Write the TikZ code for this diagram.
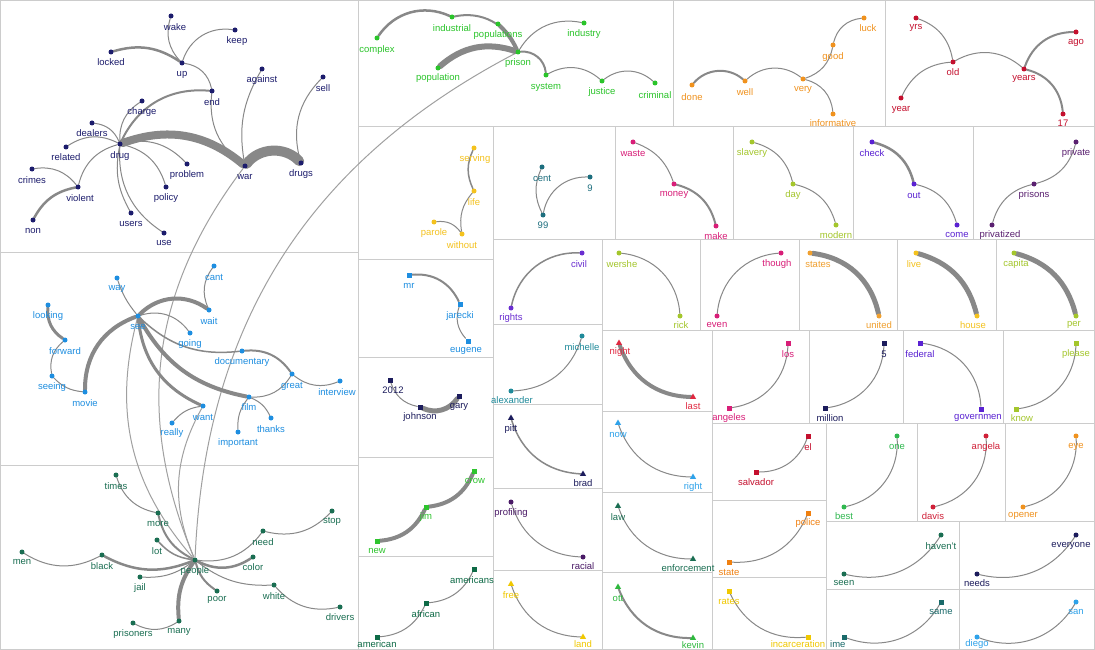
\documentclass[tikz,border=0pt]{standalone}
\usepackage{fontspec}
\setmainfont{Liberation Sans}
\usetikzlibrary{shapes.geometric}
\pgfdeclarelayer{bg}
\pgfsetlayers{bg,main}
\definecolor{edgegray}{HTML}{888888}
\definecolor{edgelight}{HTML}{A0A0A0}
\definecolor{panelgray}{HTML}{CCCCCC}
\definecolor{cA}{HTML}{1C1C6C}
\definecolor{cB}{HTML}{1E8EE0}
\definecolor{cC}{HTML}{1A6E52}
\definecolor{cP}{HTML}{2AC42A}
\definecolor{cO}{HTML}{F0921E}
\definecolor{cR}{HTML}{C4102E}
\definecolor{cY}{HTML}{F4C21E}
\definecolor{cT}{HTML}{1D6E7E}
\definecolor{cM}{HTML}{D81E78}
\definecolor{cG}{HTML}{A4C62C}
\definecolor{cV}{HTML}{5A22D2}
\definecolor{cPu}{HTML}{5A2070}
\definecolor{cV2}{HTML}{6A2ED0}
\definecolor{cO2}{HTML}{F0A030}
\definecolor{cN}{HTML}{1C1C5C}
\definecolor{cJ}{HTML}{2EC42E}
\definecolor{cA2}{HTML}{0E6A46}
\definecolor{cTl}{HTML}{1F8A9A}
\definecolor{cPf}{HTML}{4A1A66}
\definecolor{cY2}{HTML}{F0C800}
\definecolor{cRd}{HTML}{E02840}
\definecolor{cLb}{HTML}{2EA2EA}
\definecolor{cJ2}{HTML}{2EB83E}
\definecolor{cGr}{HTML}{30B850}
\definecolor{cRd2}{HTML}{D02038}
\definecolor{cOr}{HTML}{F08010}
\definecolor{cTt}{HTML}{1A6A6A}
\newcommand\nd[8]{%
  \node[#5, fill=#4] (#1) at (#2,#3) {};
  \node[lbl, text=#4] (#1-t) at (#7,#8) {#6};}
\newcommand\ed[4][1]{\draw[edge, line width=#1pt] (#2) to[#4] (#3);}
\begin{document}
\begin{tikzpicture}[x=1pt,y=-1pt,
 mkc/.style={circle,inner sep=0pt,minimum size=5pt,draw=none},
 mks/.style={rectangle,inner sep=0pt,minimum size=5pt,draw=none},
 mkt/.style={regular polygon,regular polygon sides=3,inner sep=0pt,minimum size=7pt,draw=none},
 lbl/.style={inner sep=0pt,font=\fontsize{9.5}{9.5}\selectfont},
 edge/.style={draw=edgegray,line cap=round},
 far/.style={draw=edgelight,line width=1pt},
 panel/.style={draw=panelgray,line width=1pt}]
\useasboundingbox (0,0) rectangle (1095,650);
\clip (0,0) rectangle (1095,650);
% ---------------- nodes ----------------
% panel A
\nd{wake}{171}{16}{cA}{mkc}{wake}{175}{27}
\nd{keep}{235}{30}{cA}{mkc}{keep}{237}{41}
\nd{locked}{111}{52}{cA}{mkc}{locked}{111}{62}
\nd{up}{182}{63}{cA}{mkc}{up}{182}{75}
\nd{against}{262}{69}{cA}{mkc}{against}{262}{80}
\nd{sell}{323}{77}{cA}{mkc}{sell}{323}{88}
\nd{end}{212}{91}{cA}{mkc}{end}{212}{102}
\nd{charge}{142}{101}{cA}{mkc}{charge}{142}{112}
\nd{dealers}{92}{123}{cA}{mkc}{dealers}{92}{133}
\nd{drug}{120}{144}{cA}{mkc}{drug}{120}{156}
\nd{related}{66}{147}{cA}{mkc}{related}{66}{157}
\nd{problem}{187}{164}{cA}{mkc}{problem}{187}{175}
\nd{war}{245}{166}{cA}{mkc}{war}{245}{177}
\nd{drugs}{301}{163}{cA}{mkc}{drugs}{301}{174}
\nd{crimes}{32}{169}{cA}{mkc}{crimes}{32}{180}
\nd{violent}{78}{187}{cA}{mkc}{violent}{80}{198}
\nd{policy}{166}{187}{cA}{mkc}{policy}{166}{198}
\nd{users}{131}{213}{cA}{mkc}{users}{131}{224}
\nd{non}{33}{220}{cA}{mkc}{non}{33}{231}
\nd{use}{164}{233}{cA}{mkc}{use}{164}{243}
% panel B
\nd{way}{117}{278}{cB}{mkc}{way}{117}{289}
\nd{cant}{214}{266}{cB}{mkc}{cant}{214}{277}
\nd{looking}{48}{305}{cB}{mkc}{looking}{48}{316}
\nd{see}{138}{316}{cB}{mkc}{see}{138}{327}
\nd{wait}{209}{310}{cB}{mkc}{wait}{209}{321}
\nd{forward}{65}{340}{cB}{mkc}{forward}{65}{351}
\nd{going}{190}{333}{cB}{mkc}{going}{190}{344}
\nd{documentary}{242}{351}{cB}{mkc}{documentary}{242}{362}
\nd{seeing}{52}{376}{cB}{mkc}{seeing}{52}{387}
\nd{great}{292}{374}{cB}{mkc}{great}{292}{386}
\nd{interview}{340}{381}{cB}{mkc}{interview}{337}{392}
\nd{movie}{85}{392}{cB}{mkc}{movie}{85}{403}
\nd{film}{249}{397}{cB}{mkc}{film}{249}{407}
\nd{want}{203}{406}{cB}{mkc}{want}{203}{417}
\nd{thanks}{271}{418}{cB}{mkc}{thanks}{271}{429}
\nd{really}{172}{423}{cB}{mkc}{really}{172}{433}
\nd{important}{238}{432}{cB}{mkc}{important}{238}{443}
% panel C
\nd{times}{116}{475}{cC}{mkc}{times}{116}{486}
\nd{more}{158}{513}{cC}{mkc}{more}{158}{524}
\nd{stop}{332}{511}{cC}{mkc}{stop}{332}{521}
\nd{lot}{157}{540}{cC}{mkc}{lot}{157}{551}
\nd{need}{263}{531}{cC}{mkc}{need}{263}{542}
\nd{men}{22}{552}{cC}{mkc}{men}{22}{562}
\nd{black}{102}{555}{cC}{mkc}{black}{102}{566}
\nd{people}{195}{560}{cC}{mkc}{people}{195}{571}
\nd{color}{253}{557}{cC}{mkc}{color}{253}{567}
\nd{jail}{140}{577}{cC}{mkc}{jail}{140}{588}
\nd{white}{274}{585}{cC}{mkc}{white}{274}{596}
\nd{poor}{217}{591}{cC}{mkc}{poor}{217}{600}
\nd{drivers}{340}{607}{cC}{mkc}{drivers}{340}{617}
\nd{many}{179}{621}{cC}{mkc}{many}{179}{632}
\nd{prisoners}{133}{623}{cC}{mkc}{prisoners}{133}{634}
% prison panel
\nd{complex}{377}{38}{cP}{mkc}{complex}{377}{50}
\nd{industrial}{452}{17}{cP}{mkc}{industrial}{452}{28}
\nd{populations}{498}{24}{cP}{mkc}{populations}{498}{35}
\nd{industry}{584}{23}{cP}{mkc}{industry}{584}{34}
\nd{prison}{518}{52}{cP}{mkc}{prison}{518}{63}
\nd{population}{438}{68}{cP}{mkc}{population}{438}{78}
\nd{system}{546}{75}{cP}{mkc}{system}{546}{87}
\nd{justice}{602}{81}{cP}{mkc}{justice}{602}{92}
\nd{criminal}{655}{83}{cP}{mkc}{criminal}{655}{95}
% orange panel
\nd{luck}{864}{18}{cO}{mkc}{luck}{868}{28}
\nd{good}{833}{45}{cO}{mkc}{good}{833}{57}
\nd{done}{692}{85}{cO}{mkc}{done}{692}{97}
\nd{well}{745}{81}{cO}{mkc}{well}{745}{92}
\nd{very}{803}{79}{cO}{mkc}{very}{803}{90}
\nd{informative}{833}{114}{cO}{mkc}{informative}{833}{123}
% red panel
\nd{yrs}{916}{18}{cR}{mkc}{yrs}{916}{28}
\nd{ago}{1076}{32}{cR}{mkc}{ago}{1076}{43}
\nd{old}{953}{62}{cR}{mkc}{old}{953}{72}
\nd{years}{1024}{69}{cR}{mkc}{years}{1024}{79}
\nd{year}{901}{98}{cR}{mkc}{year}{901}{110}
\nd{n17}{1063}{114}{cR}{mkc}{17}{1063}{123}
% row 2
\nd{serving}{474}{148}{cY}{mkc}{serving}{475}{159}
\nd{life}{474}{191}{cY}{mkc}{life}{474}{202}
\nd{parole}{434}{222}{cY}{mkc}{parole}{434}{233}
\nd{without}{462}{234}{cY}{mkc}{without}{462}{245}
\nd{cent}{542}{167}{cT}{mkc}{cent}{542}{178}
\nd{nine}{590}{177}{cT}{mkc}{9}{590}{188}
\nd{nn}{543}{215}{cT}{mkc}{99}{543}{225}
\nd{waste}{633}{142}{cM}{mkc}{waste}{633}{153}
\nd{money}{674}{184}{cM}{mkc}{money}{674}{195}
\nd{make}{716}{226}{cM}{mkc}{make}{716}{236}
\nd{slavery}{752}{142}{cG}{mkc}{slavery}{752}{153}
\nd{day}{793}{184}{cG}{mkc}{day}{793}{195}
\nd{modern}{836}{225}{cG}{mkc}{modern}{836}{235}
\nd{check}{872}{142}{cV}{mkc}{check}{872}{153}
\nd{out}{914}{184}{cV}{mkc}{out}{914}{195}
\nd{come}{957}{225}{cV}{mkc}{come}{957}{235}
\nd{private}{1076}{142}{cPu}{mkc}{private}{1076}{153}
\nd{prisons}{1034}{184}{cPu}{mkc}{prisons}{1034}{195}
\nd{privatized}{992}{225}{cPu}{mkc}{privatized}{1000}{235}
% row 3
\nd{civil}{582}{253}{cV2}{mkc}{civil}{579}{264}
\nd{rights}{511}{308}{cV2}{mkc}{rights}{511}{318}
\nd{wershe}{619}{253}{cG}{mkc}{wershe}{622}{264}
\nd{rick}{680}{316}{cG}{mkc}{rick}{681}{325}
\nd{though}{781}{253}{cM}{mkc}{though}{777}{264}
\nd{even}{717}{316}{cM}{mkc}{even}{717}{325}
\nd{states}{810}{253}{cO2}{mkc}{states}{818}{264}
\nd{united}{879}{316}{cO2}{mkc}{united}{879}{325}
\nd{live}{916}{253}{cY}{mkc}{live}{914}{264}
\nd{house}{977}{316}{cY}{mkc}{house}{973}{325}
\nd{capita}{1014}{253}{cG}{mkc}{capita}{1016}{264}
\nd{per}{1076}{316}{cG}{mkc}{per}{1074}{325}
% left-middle column
\nd{mr}{409}{275}{cB}{mks}{mr}{409}{286}
\nd{jarecki}{460}{304}{cB}{mks}{jarecki}{460}{316}
\nd{eugene}{468}{341}{cB}{mks}{eugene}{466}{351}
\nd{y2012}{390}{380}{cN}{mks}{2012}{393}{390}
\nd{johnson}{420}{407}{cN}{mks}{johnson}{420}{417}
\nd{gary}{459}{396}{cN}{mks}{gary}{459}{407}
\nd{crow}{474}{471}{cJ}{mks}{crow}{475}{481}
\nd{jim}{426}{507}{cJ}{mks}{jim}{426}{517}
\nd{new}{377}{541}{cJ}{mks}{new}{377}{551}
\nd{americans}{474}{569}{cA2}{mks}{americans}{472}{580}
\nd{african}{426}{603}{cA2}{mks}{african}{426}{614}
\nd{american}{377}{637}{cA2}{mks}{american}{377}{644}
% column 493-602
\nd{michelle}{582}{336}{cTl}{mkc}{michelle}{582}{347}
\nd{alexander}{511}{391}{cTl}{mkc}{alexander}{512}{400}
\nd{pitt}{511}{418}{cN}{mkt}{pitt}{511}{429}
\nd{brad}{583}{474}{cN}{mkt}{brad}{583}{483}
\nd{profiling}{511}{502}{cPf}{mkc}{profiling}{511}{513}
\nd{racial}{583}{557}{cPf}{mkc}{racial}{583}{566}
\nd{free}{511}{584}{cY2}{mkt}{free}{511}{595}
\nd{land}{583}{637}{cY2}{mkt}{land}{583}{644}
% column 602-712
\nd{night}{619}{343}{cRd}{mkt}{night}{620}{352}
\nd{last}{693}{397}{cRd}{mkt}{last}{693}{406}
\nd{now}{618}{423}{cLb}{mkt}{now}{618}{435}
\nd{right}{693}{477}{cLb}{mkt}{right}{693}{487}
\nd{law}{618}{506}{cC}{mkt}{law}{618}{517}
\nd{enforcement}{693}{559}{cC}{mkt}{enforcement}{688}{568}
\nd{ott}{618}{587}{cJ2}{mkt}{ott}{618}{598}
\nd{kevin}{693}{638}{cJ2}{mkt}{kevin}{693}{645}
% row y 330-423
\nd{los}{788}{343}{cM}{mks}{los}{788}{354}
\nd{angeles}{729}{408}{cM}{mks}{angeles}{729}{418}
\nd{five}{884}{343}{cN}{mks}{5}{884}{354}
\nd{million}{825}{408}{cN}{mks}{million}{830}{418}
\nd{federal}{920}{343}{cV}{mks}{federal}{920}{354}
\nd{governmen}{981}{409}{cV}{mks}{governmen}{978}{418}
\nd{please}{1076}{343}{cG}{mks}{please}{1076}{354}
\nd{know}{1016}{409}{cG}{mks}{know}{1022}{418}
% lower right
\nd{el}{808}{436}{cR}{mks}{el}{808}{447}
\nd{salvador}{756}{472}{cR}{mks}{salvador}{756}{482}
\nd{one}{897}{436}{cGr}{mkc}{one}{897}{447}
\nd{best}{844}{507}{cGr}{mkc}{best}{844}{516}
\nd{angela}{986}{436}{cRd2}{mkc}{angela}{986}{447}
\nd{davis}{933}{507}{cRd2}{mkc}{davis}{933}{516}
\nd{eye}{1076}{436}{cO}{mkc}{eye}{1076}{447}
\nd{opener}{1023}{507}{cO}{mkc}{opener}{1023}{516}
\nd{police}{808}{513}{cOr}{mks}{police}{808}{523}
\nd{state}{729}{562}{cOr}{mks}{state}{729}{572}
\nd{rates}{729}{591}{cY2}{mks}{rates}{729}{601}
\nd{incarceration}{808}{637}{cY2}{mks}{incarceration}{798}{644}
\nd{havent}{941}{535}{cC}{mkc}{haven't}{941}{546}
\nd{seen}{844}{574}{cC}{mkc}{seen}{844}{583}
\nd{everyone}{1076}{535}{cN}{mkc}{everyone}{1071}{546}
\nd{needs}{977}{574}{cN}{mkc}{needs}{977}{583}
\nd{same}{941}{602}{cTt}{mks}{same}{941}{612}
\node[mks, fill=cTt] (time) at (844,637) {};
\node[lbl, text=cTt, anchor=west] (time-t) at (830,644) {ime};
\nd{san}{1076}{602}{cLb}{mkc}{san}{1076}{612}
\nd{diego}{977}{637}{cLb}{mkc}{diego}{977}{644}
% ---------------- background: panels and edges ----------------
\begin{pgfonlayer}{bg}
\fill[white] (0,0) rectangle (1095,650);
\foreach \a/\b/\c/\d in {0.5/0.5/358/252, 0.5/252/358/465, 0.5/465/358/649.5,
  358/0.5/673/127, 673/0.5/885/127, 885/0.5/1094.5/127,
  358/127/493/259, 493/127/615/239, 615/127/733/239, 733/127/853/239, 853/127/973/239, 973/127/1094.5/239,
  493/239/602/324, 602/239/700/330, 700/239/799/330, 799/239/897/330, 897/239/996/330, 996/239/1094.5/330,
  358/259/493/357, 358/357/493/457, 358/457/493/556, 358/556/493/649.5,
  493/324/602/404, 493/404/602/488, 493/488/602/570, 493/570/602/649.5,
  602/330/712/411, 602/411/712/492, 602/492/712/572, 602/572/712/649.5,
  712/330/809/423, 809/330/903/423, 903/330/1003/423, 1003/330/1094.5/423,
  712/423/826/500, 826/423/917/521, 917/423/1005/521, 1005/423/1094.5/521,
  712/500/826/577, 712/577/826/649.5, 826/521/959/589, 959/521/1094.5/589,
  826/589/959/649.5, 959/589/1094.5/649.5}
  \draw[panel] (\a,\b) rectangle (\c,\d);
% panel A
\ed[8]{drug}{war}{bend left=30}
\ed[10]{war}{drugs}{bend left=50}
\ed[2.5]{locked}{up}{bend left=25}
\ed{up}{end}{bend left=35}
\ed[2]{drug}{end}{bend left=35}
\ed{end}{war}{bend right=30}
\ed{wake}{up}{bend right=30}
\ed{up}{keep}{bend left=40}
\ed{war}{against}{bend left=20}
\ed{drugs}{sell}{bend left=30}
\ed{drug}{charge}{bend left=30}
\ed{dealers}{drug}{bend left=30}
\ed{related}{drug}{bend left=30}
\ed{drug}{problem}{bend left=30}
\ed{drug}{policy}{bend left=30}
\ed{drug}{users}{bend right=20}
\ed{drug}{use}{bend right=30}
\ed{violent}{drug}{bend left=30}
\ed{crimes}{violent}{bend left=30}
\ed[2.5]{non}{violent}{bend left=25}
% long connectors
\draw[far] (war) to[bend right=30] (people);
\draw[far] (people) to[bend left=30] (prison);
\draw[far] (see) to[bend right=28] (people);
\draw[far] (want) to[bend right=26] (people);
% panel B
\ed{way}{see}{bend right=10}
\ed[4]{see}{wait}{bend left=40}
\ed{wait}{cant}{bend left=30}
\ed[4]{movie}{see}{bend left=35}
\ed[3]{looking}{forward}{bend right=30}
\ed{seeing}{forward}{bend left=30}
\ed{seeing}{movie}{bend right=20}
\ed{see}{going}{bend left=35}
\ed[1.5]{see}{documentary}{bend right=25}
\ed[2]{documentary}{great}{bend left=30}
\ed{great}{interview}{bend right=30}
\ed{film}{great}{bend right=30}
\ed[4]{see}{film}{bend right=25}
\ed[3]{see}{want}{bend right=30}
\ed{really}{want}{bend left=20}
\ed{film}{thanks}{bend left=20}
\ed{film}{important}{bend right=20}
% panel C
\ed{times}{more}{bend right=30}
\ed[2]{more}{people}{bend right=25}
\ed[1.5]{lot}{people}{bend right=20}
\ed{men}{black}{bend right=30}
\ed[2.5]{black}{people}{bend right=25}
\ed{jail}{people}{bend right=20}
\ed{people}{need}{bend right=30}
\ed{need}{stop}{bend right=30}
\ed[2.5]{people}{color}{bend right=30}
\ed{people}{white}{bend right=20}
\ed{white}{drivers}{bend right=30}
\ed[2]{people}{poor}{bend right=20}
\ed[4]{people}{many}{bend right=20}
\ed{prisoners}{many}{bend right=30}
% prison panel
\ed[2.5]{complex}{industrial}{bend left=40}
\ed[2]{industrial}{prison}{bend left=40}
\ed[4]{populations}{prison}{bend left=10}
\ed[6]{population}{prison}{bend left=30}
\ed{prison}{industry}{bend left=35}
\ed[2]{prison}{system}{bend left=45}
\ed{system}{justice}{bend left=35}
\ed{justice}{criminal}{bend left=40}
% orange
\ed[2]{done}{well}{bend left=45}
\ed{well}{very}{bend left=40}
\ed{very}{good}{bend right=30}
\ed{good}{luck}{bend left=35}
\ed{very}{informative}{bend left=35}
% red
\ed{yrs}{old}{bend left=30}
\ed{old}{years}{bend left=35}
\ed{year}{old}{bend left=30}
\ed[2]{years}{ago}{bend left=35}
\ed[2]{years}{n17}{bend left=35}
% row 2
\ed[1.5]{life}{serving}{bend left=25}
\ed{without}{life}{bend left=25}
\ed{parole}{without}{bend left=30}
\ed{nn}{cent}{bend left=25}
\ed{nn}{nine}{bend left=40}
\ed{waste}{money}{bend left=25}
\ed[2]{money}{make}{bend left=30}
\ed{slavery}{day}{bend left=30}
\ed{day}{modern}{bend left=30}
\ed[2.5]{check}{out}{bend left=30}
\ed{out}{come}{bend left=30}
\ed{privatized}{prisons}{bend left=30}
\ed{prisons}{private}{bend right=30}
% row 3
\ed[1.5]{rights}{civil}{bend left=40}
\ed{wershe}{rick}{bend left=40}
\ed{even}{though}{bend left=40}
\ed[5]{states}{united}{bend left=35}
\ed[5]{live}{house}{bend left=30}
\ed[5]{capita}{per}{bend left=30}
% left-middle column
\ed[2]{mr}{jarecki}{bend left=35}
\ed{jarecki}{eugene}{bend right=30}
\ed{y2012}{johnson}{bend right=30}
\ed[5]{johnson}{gary}{bend right=40}
\ed[4]{new}{jim}{bend right=30}
\ed[4]{jim}{crow}{bend right=30}
\ed{american}{african}{bend right=30}
\ed{african}{americans}{bend right=30}
% small panels
\ed{alexander}{michelle}{bend right=35}
\ed[1.5]{pitt}{brad}{bend right=35}
\ed{profiling}{racial}{bend right=35}
\ed{free}{land}{bend right=35}
\ed[4]{night}{last}{bend right=35}
\ed{now}{right}{bend right=35}
\ed{law}{enforcement}{bend right=35}
\ed[2]{ott}{kevin}{bend right=35}
\ed{angeles}{los}{bend right=40}
\ed{million}{five}{bend right=40}
\ed{federal}{governmen}{bend left=40}
\ed{know}{please}{bend right=40}
\ed{salvador}{el}{bend right=35}
\ed{best}{one}{bend right=40}
\ed{davis}{angela}{bend right=40}
\ed{opener}{eye}{bend right=40}
\ed{state}{police}{bend right=35}
\ed{rates}{incarceration}{bend right=35}
\ed{seen}{havent}{bend right=35}
\ed{needs}{everyone}{bend right=35}
\ed{time}{same}{bend right=40}
\ed{diego}{san}{bend right=40}
\end{pgfonlayer}
\end{tikzpicture}
\end{document}
